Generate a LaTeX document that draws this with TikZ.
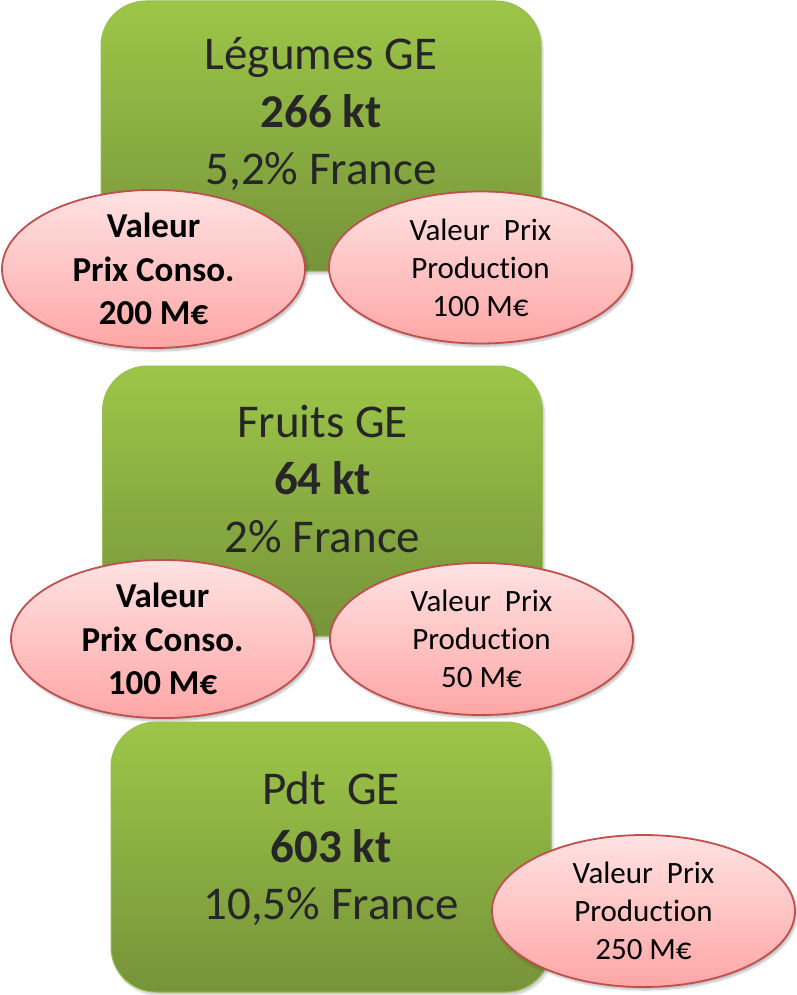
\documentclass[tikz,border=0pt]{standalone}
\usepackage{fontspec}
\setmainfont[Ligatures=NoCommon]{Carlito}
\usetikzlibrary{shadows.blur,shapes.geometric}
\definecolor{gtop}{RGB}{157,198,72}
\definecolor{gbot}{RGB}{118,147,58}
\definecolor{gborder}{RGB}{150,190,80}
\definecolor{ptop}{RGB}{255,226,226}
\definecolor{pbot}{RGB}{255,166,166}
\definecolor{pborder}{RGB}{192,80,77}
\definecolor{txt}{RGB}{38,38,38}
\begin{document}
\begin{tikzpicture}[x=1pt,y=-1pt,
  greenbox/.style={rectangle, rounded corners=45pt, top color=gtop, bottom color=gbot,
    draw=gborder, line width=1pt, inner sep=0pt, minimum width=440pt, minimum height=270pt,
    blur shadow={shadow xshift=2pt, shadow yshift=-3pt, shadow opacity=20, shadow blur steps=6}},
  boxtext/.style={align=center, text=txt, inner sep=0pt, font=\fontsize{47}{57.5}\selectfont},
  pinkell/.style={ellipse, top color=ptop, bottom color=pbot, draw=pborder, line width=1.8pt,
    inner sep=0pt, minimum width=303pt, minimum height=152pt, align=center, text=black,
    blur shadow={shadow xshift=2pt, shadow yshift=-3pt, shadow opacity=25, shadow blur steps=6}},
  regtext/.style={font=\fontsize{31}{38}\selectfont},
  boldtext/.style={font=\fontsize{35}{43.5}\selectfont\bfseries}
]
\useasboundingbox (0,0) rectangle (796,995);

% Box 1
\node[greenbox] (b1) at (321,136) {};
\node[boxtext] (t1) at (321,114) {Légumes GE\\\textbf{266 kt}\\5,2\% France};
\node[pinkell, boldtext] (e1l) at (153.5,269) {Valeur\\Prix Conso.\\200 M€};
\node[pinkell, regtext] (e1r) at (480.5,267.5) {Valeur~~Prix\\Production\\100 M€};

% Box 2
\node[greenbox] (b2) at (322.5,501) {};
\node[boxtext] (t2) at (322.5,479) {Fruits GE\\\textbf{64 kt}\\2\% France};
\node[pinkell, boldtext] (e2l) at (162.5,639) {Valeur\\Prix Conso.\\100 M€};
\node[pinkell, regtext] (e2r) at (481.5,639) {Valeur~~Prix\\Production\\50 M€};

% Box 3
\node[greenbox] (b3) at (331,857) {};
\node[boxtext] (t3) at (331,849) {Pdt~~GE\\\textbf{603 kt}\\10,5\% France};
\node[pinkell, regtext] (e3) at (643.5,911) {Valeur~~Prix\\Production\\250 M€};
\end{tikzpicture}
\end{document}
